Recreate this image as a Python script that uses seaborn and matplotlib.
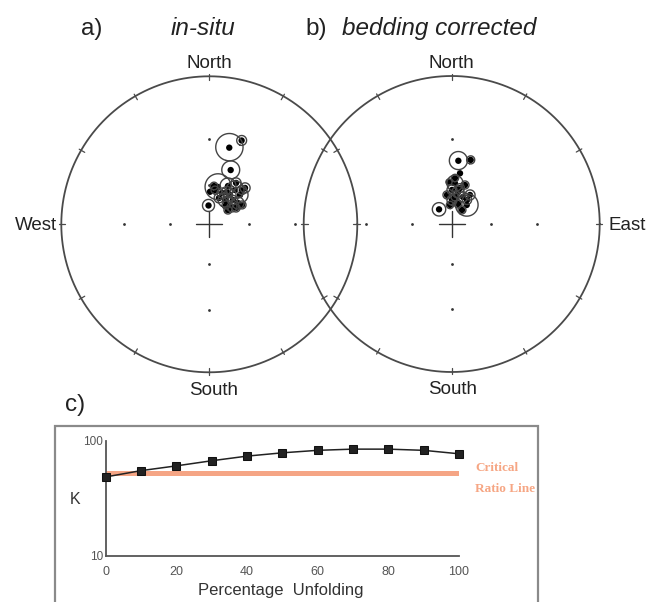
import numpy as np
import matplotlib
matplotlib.use("Agg")
import matplotlib.pyplot as plt
from matplotlib.patches import Rectangle
from matplotlib.ticker import FixedLocator, NullFormatter, FixedFormatter
import seaborn as sns

# ---- site-mean directions, in situ (declination, inclination, alpha95 in degrees)
insitu_dec = [14.6, 21.1, 21.5, 357.6, 13.1, 26.0, 36.8, 46.3, 35.2, 32.9,
              53.4, 52.7, 9.4, 44.5, 22.1, 32.9, 52.6, 59.4, 1.2,
              44.3, 40.9, 20.2, 43.6, 58.6, 28.7, 7.0]
insitu_inc = [33.7, 27.5, 47.0, 75.5, 61.0, 57.9, 57.7, 58.0, 62.7, 67.9,
              62.9, 68.2, 63.6, 52.0, 64.3, 53.2, 72.0, 61.2, 65.2,
              64.2, 70.4, 68.6, 54.5, 66.1, 62.1, 60.8]
insitu_a95 = [8.2, 2.8, 6.0, 4.6, 9.4, 5.7, 6.4, 5.7, 4.4, 5.2,
              4.4, 3.7, 2.9, 3.5, 3.7, 3.5, 3.0, 2.9, 0.0,
              3.4, 3.0, 3.6, 3.2, 3.0, 4.0, 2.8]

# ---- same sites after bedding correction
tilt_dec = [6.0, 16.5, 9.3, 38.3, 4.6, 319.2, 0.5, 11.1, 22.7, 0.7,
            17.5, 32.2, 18.8, 350.8, 36.3, 356.3,
            7.0, 13.0, 354.9, 32.5, 4.1]
tilt_inc = [43.5, 41.4, 51.7, 71.4, 59.2, 75.1, 64.1, 65.2, 67.6, 71.6,
            73.8, 63.9, 58.9, 67.5, 76.6, 58.3,
            69.2, 62.0, 75.3, 68.2, 55.4]
tilt_a95 = [5.9, 2.6, 0.0, 8.5, 5.8, 5.1, 3.7, 4.4, 3.7, 3.8,
            3.0, 3.7, 2.9, 3.0, 3.0, 2.2,
            3.0, 3.2, 2.8, 3.4, 2.6]

# ---- incremental unfolding test
unfolding_pct = [0, 10, 20, 30, 40, 50, 60, 70, 80, 90, 100]
kappa = [48.5, 55.0, 60.5, 67.0, 73.5, 78.5, 82.5, 84.5, 84.5, 82.5, 77.0]
critical_kappa = 52.5

# reference dots of the net
grid_incs = [30, 60]
grid_decs = [0, 90, 180, 270]

sns.set_style("white")
plt.rcParams["font.family"] = ["Liberation Sans", "DejaVu Sans"]

W, H = 650, 602
fig = plt.figure(figsize=(W / 100, H / 100), dpi=100)


def fx(x):
    return x / W


def fy(y):
    return 1 - y / H


def wulff(dec, inc):
    """Lower-hemisphere stereographic (Wulff) projection, unit primitive."""
    d = np.radians(np.asarray(dec, float))
    i = np.radians(np.asarray(inc, float))
    n = np.cos(i) * np.cos(d)
    e = np.cos(i) * np.sin(d)
    z = np.sin(i)
    return e / (1 + z), n / (1 + z)


def small_circle(dec, inc, a95, n=181):
    d, i, a = np.radians([dec, inc, a95])
    v = np.array([np.cos(i) * np.cos(d), np.cos(i) * np.sin(d), np.sin(i)])
    e1 = np.array([-np.sin(i) * np.cos(d), -np.sin(i) * np.sin(d), np.cos(i)])
    e2 = np.cross(v, e1)
    t = np.linspace(0, 2 * np.pi, n)
    pts = np.cos(a) * v[:, None] + np.sin(a) * (np.outer(e1, np.cos(t)) + np.outer(e2, np.sin(t)))
    nn, ee, zz = pts
    return ee / (1 + zz), nn / (1 + zz)


R_PX = 148.0
L = 1.12


def stereonet(cx, cy, decs, incs, a95s):
    half = R_PX * L
    ax = fig.add_axes([fx(cx - half), fy(cy + half), 2 * half / W, 2 * half / H])
    ax.set_facecolor("none")
    th = np.linspace(0, 2 * np.pi, 721)
    ax.plot(np.cos(th), np.sin(th), color="#4a4a4a", lw=1.3)
    for az in range(0, 360, 30):
        a = np.radians(az)
        ax.plot([0.972 * np.sin(a), 1.015 * np.sin(a)],
                [0.972 * np.cos(a), 1.015 * np.cos(a)], color="#4a4a4a", lw=0.9)
    gd = np.repeat(grid_decs, len(grid_incs))
    gi = np.tile(grid_incs, len(grid_decs))
    gx, gy = wulff(gd, gi)
    ax.scatter(gx, gy, s=4, color="#333333", lw=0)
    c = 13 / R_PX
    ax.plot([-c, c], [0, 0], color="#333333", lw=1.0)
    ax.plot([0, 0], [-c, c], color="#333333", lw=1.0)
    for d, i, a in zip(decs, incs, a95s):
        if a > 0:
            sx, sy = small_circle(d, i, a)
            ax.plot(sx, sy, color="#444444", lw=1.0)
    px, py = wulff(decs, incs)
    sns.scatterplot(x=px, y=py, ax=ax, color="black", s=21, edgecolor="none", legend=False)
    ax.set_xlim(-L, L)
    ax.set_ylim(-L, L)
    ax.set_aspect("equal")
    ax.axis("off")
    return ax


stereonet(209.3, 224.3, insitu_dec, insitu_inc, insitu_a95)
stereonet(451.7, 224.0, tilt_dec, tilt_inc, tilt_a95)

txt = "#222222"
fig.text(fx(92), fy(35), "a)", ha="center", va="baseline", fontsize=17.5, color=txt)
fig.text(fx(202.5), fy(35), "in-situ", ha="center", va="baseline", fontsize=17.5,
         style="italic", color=txt)
fig.text(fx(316), fy(35), "b)", ha="center", va="baseline", fontsize=17.5, color=txt)
fig.text(fx(341.7), fy(35), "bedding corrected", ha="left", va="baseline", fontsize=17.5,
         style="italic", color=txt)
fig.text(fx(209), fy(67.5), "North", ha="center", va="baseline", fontsize=13.5, color=txt)
fig.text(fx(451), fy(67.5), "North", ha="center", va="baseline", fontsize=13.5, color=txt)
fig.text(fx(56.7), fy(230.5), "West", ha="right", va="baseline", fontsize=13.5, color=txt)
fig.text(fx(608), fy(230.5), "East", ha="left", va="baseline", fontsize=13.5, color=txt)
fig.text(fx(213.5), fy(395), "South", ha="center", va="baseline", fontsize=13.5, color=txt)
fig.text(fx(453), fy(393.5), "South", ha="center", va="baseline", fontsize=13.5, color=txt)
fig.text(fx(65), fy(411), "c)", ha="left", va="baseline", fontsize=17.5, color=txt)

# ---- unfolding panel
fig.add_artist(Rectangle((fx(55), -0.05), (538 - 55) / W, fy(426) + 0.05,
                         transform=fig.transFigure, fill=False, ec="#8a8a8a", lw=1.6))

axk = fig.add_axes([fx(105.7), fy(556), (459 - 105.7) / W, (556 - 440.7) / H])
axk.set_facecolor("none")
axk.set_yscale("log")
axk.hlines(critical_kappa, unfolding_pct[0], unfolding_pct[-1], color="#f5a585", lw=3.6, zorder=2)
sns.lineplot(x=unfolding_pct, y=kappa, ax=axk, color="#222222", lw=1.1, marker="s",
             markersize=5.2, markeredgecolor="#111111", clip_on=False, zorder=3)
axk.set_xlim(0, 100)
axk.set_ylim(10, 100)
for s in ["top", "right"]:
    axk.spines[s].set_visible(False)
for s in ["left", "bottom"]:
    axk.spines[s].set_color("#555555")
    axk.spines[s].set_linewidth(1.3)
axk.yaxis.set_major_locator(FixedLocator([10, 100]))
axk.yaxis.set_major_formatter(FixedFormatter(["10", "100"]))
axk.yaxis.set_minor_locator(FixedLocator([20, 30, 40, 50, 60, 70, 80, 90]))
axk.yaxis.set_minor_formatter(NullFormatter())
axk.set_xticks([0, 20, 40, 60, 80, 100])
axk.tick_params(axis="y", which="major", direction="in", length=8, width=1.1,
                colors="#555555", labelsize=8.5, pad=2)
axk.tick_params(axis="y", which="minor", direction="in", length=4.5, width=1.0, colors="#555555")
axk.tick_params(axis="x", which="major", direction="inout", length=6, width=1.1,
                colors="#555555", labelsize=9, pad=4)
axk.set_xlabel("")
axk.set_ylabel("")

fig.text(fx(75), fy(500), "\u039a", ha="center", va="center", fontsize=11.5, color="#333333")
fig.text(fx(280.5), fy(590), "Percentage  Unfolding", ha="center", va="center",
         fontsize=12, color="#333333")
fig.text(fx(475), fy(468), "Critical", ha="left", va="center", fontsize=9.5,
         family=["Liberation Serif", "DejaVu Serif"], weight="bold", color="#f6a684")
fig.text(fx(475), fy(489), "Ratio Line", ha="left", va="center", fontsize=9.5,
         family=["Liberation Serif", "DejaVu Serif"], weight="bold", color="#f6a684")

fig.savefig("out.png", dpi=100)
